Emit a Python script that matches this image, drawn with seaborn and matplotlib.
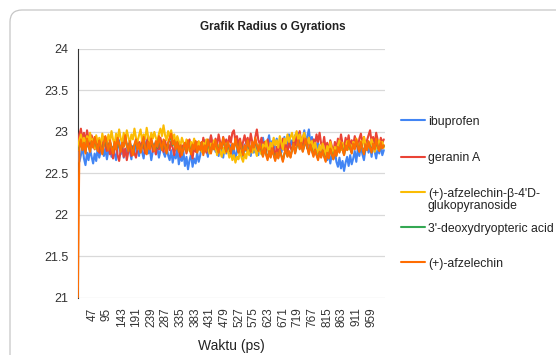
import numpy as np
import pandas as pd
import matplotlib
matplotlib.use("Agg")
import matplotlib.pyplot as plt
from matplotlib.patches import FancyBboxPatch
from matplotlib.lines import Line2D
import seaborn as sns

# time axis (ps), sampled every 5 ps
waktu = list(range(0, 1001, 5))

ibuprofen = [
    22.76, 22.64, 22.72, 22.83, 22.68, 22.60, 22.75, 22.66, 22.79, 22.70,
    22.62, 22.74, 22.65, 22.81, 22.69, 22.77, 22.86, 22.71, 22.80, 22.67,
    22.78, 22.88, 22.70, 22.82, 22.74, 22.66, 22.80, 22.90, 22.73, 22.84,
    22.69, 22.79, 22.72, 22.86, 22.77, 22.67, 22.83, 22.74, 22.92, 22.78,
    22.71, 22.85, 22.76, 22.68, 22.82, 22.90, 22.74, 22.80, 22.66, 22.77,
    22.86, 22.73, 22.81, 22.69, 22.78, 22.88, 22.75, 22.70, 22.83, 22.72,
    22.66, 22.78, 22.63, 22.74, 22.68, 22.80, 22.61, 22.71, 22.65, 22.76,
    22.59, 22.70, 22.55, 22.66, 22.73, 22.58, 22.68, 22.62, 22.75, 22.64,
    22.72, 22.84, 22.75, 22.90, 22.79, 22.70, 22.86, 22.95, 22.80, 22.88,
    22.76, 22.83, 22.71, 22.87, 22.78, 22.69, 22.82, 22.74, 22.86, 22.77,
    22.84, 22.72, 22.80, 22.68, 22.76, 22.89, 22.73, 22.81, 22.70, 22.85,
    22.77, 22.91, 22.79, 22.71, 22.84, 22.75, 22.88, 22.80, 22.72, 22.86,
    22.79, 22.93, 22.82, 22.74, 22.87, 22.96, 22.81, 22.89, 22.76, 22.85,
    22.92, 22.80, 22.88, 22.75, 22.84, 22.94, 22.79, 22.86, 22.97, 22.83,
    22.90, 22.81, 22.96, 22.86, 22.99, 22.84, 22.93, 22.88, 23.02, 22.87,
    22.95, 23.03, 22.86, 22.94, 22.82, 22.91, 22.78, 22.87, 22.80, 22.74,
    22.83, 22.71, 22.79, 22.66, 22.75, 22.62, 22.73, 22.67, 22.78, 22.64,
    22.58, 22.69, 22.56, 22.65, 22.53, 22.63, 22.70, 22.59, 22.72, 22.61,
    22.68, 22.77, 22.64, 22.80, 22.71, 22.84, 22.73, 22.66, 22.79, 22.87,
    22.75, 22.83, 22.70, 22.86, 22.77, 22.68, 22.81, 22.74, 22.84, 22.72,
    22.78]

geranin_a = [
    22.82, 22.97, 23.04, 22.90, 22.99, 22.86, 23.02, 22.92, 22.84, 22.96,
    22.88, 22.79, 22.93, 22.85, 22.75, 22.89, 22.81, 22.94, 22.83, 22.77,
    22.86, 22.73, 22.81, 22.68, 22.79, 22.87, 22.72, 22.65, 22.78, 22.84,
    22.70, 22.80, 22.66, 22.76, 22.85, 22.71, 22.82, 22.74, 22.69, 22.80,
    22.88, 22.77, 22.92, 22.82, 22.74, 22.86, 22.95, 22.81, 22.89, 22.76,
    22.84, 22.73, 22.87, 22.79, 22.93, 22.83, 22.76, 22.90, 22.80, 22.86,
    22.78, 22.89, 22.81, 22.72, 22.85, 22.93, 22.79, 22.70, 22.84, 22.77,
    22.86, 22.74, 22.82, 22.91, 22.78, 22.68, 22.83, 22.76, 22.88, 22.80,
    22.87, 22.78, 22.93, 22.84, 22.75, 22.89, 22.81, 22.96, 22.86, 22.79,
    22.92, 22.83, 22.97, 22.88, 22.80, 22.94, 22.85, 22.91, 22.82, 22.95,
    22.87, 22.99, 23.02, 22.89, 22.95, 22.84, 22.92, 22.80, 22.88, 22.96,
    22.86, 22.93, 22.83, 22.98, 22.88, 22.79, 22.94, 23.03, 22.90, 22.85,
    22.93, 22.81, 22.88, 22.76, 22.91, 22.83, 22.74, 22.86, 22.79, 22.70,
    22.82, 22.75, 22.88, 22.80, 22.92, 22.78, 22.85, 22.73, 22.89, 22.81,
    22.77, 22.90, 22.84, 22.96, 22.86, 23.01, 22.89, 22.82, 22.95, 22.87,
    22.80, 22.93, 22.85, 22.78, 22.91, 22.84, 22.97, 22.88, 22.99, 22.86,
    22.82, 22.94, 22.79, 22.87, 22.76, 22.90, 22.83, 22.74, 22.88, 22.80,
    22.92, 22.84, 22.97, 22.86, 22.79, 22.93, 22.85, 22.96, 22.82, 22.90,
    22.84, 22.95, 22.87, 22.79, 22.92, 22.98, 22.86, 22.94, 22.83, 22.90,
    22.96, 23.02, 22.88, 22.94, 22.85, 22.99, 22.90, 22.81, 22.93, 22.87,
    22.91]

afzelechin_glukosida = [
    22.78, 22.90, 22.97, 22.85, 22.93, 22.81, 22.95, 22.88, 22.99, 22.84,
    22.92, 22.80, 22.96, 22.87, 22.93, 22.83, 22.98, 22.89, 22.94, 22.86,
    22.97, 22.88, 23.01, 22.91, 22.85, 22.98, 22.90, 23.03, 22.92, 22.87,
    22.99, 22.90, 23.02, 22.94, 22.86, 22.97, 22.91, 23.04, 22.93, 22.88,
    22.96, 23.03, 22.89, 22.97, 22.91, 23.05, 22.94, 22.87, 22.99, 22.92,
    23.00, 22.93, 22.88, 22.98, 23.04, 22.95, 23.08, 22.96, 22.90, 23.01,
    22.94, 23.02, 22.91, 22.97, 22.86, 22.95, 22.89, 22.83, 22.93, 22.87,
    22.80, 22.91, 22.84, 22.77, 22.88, 22.82, 22.92, 22.85, 22.79, 22.89,
    22.83, 22.76, 22.87, 22.81, 22.91, 22.84, 22.74, 22.86, 22.80, 22.90,
    22.82, 22.72, 22.84, 22.77, 22.70, 22.81, 22.74, 22.86, 22.78, 22.69,
    22.75, 22.66, 22.72, 22.63, 22.70, 22.67, 22.78, 22.69, 22.64, 22.74,
    22.68, 22.79, 22.72, 22.83, 22.75, 22.86, 22.78, 22.71, 22.84, 22.77,
    22.73, 22.85, 22.78, 22.89, 22.81, 22.75, 22.87, 22.82, 22.93, 22.84,
    22.90, 22.81, 22.95, 22.87, 22.79, 22.92, 22.86, 22.97, 22.88, 22.94,
    22.99, 22.89, 22.95, 23.01, 22.91, 22.97, 22.87, 22.94, 22.99, 22.90,
    22.85, 22.93, 22.82, 22.89, 22.78, 22.87, 22.80, 22.74, 22.84, 22.77,
    22.86, 22.79, 22.72, 22.83, 22.76, 22.88, 22.80, 22.70, 22.82, 22.75,
    22.84, 22.90, 22.78, 22.87, 22.73, 22.82, 22.89, 22.79, 22.85, 22.76,
    22.88, 22.81, 22.92, 22.84, 22.77, 22.89, 22.83, 22.94, 22.86, 22.79,
    22.87, 22.80, 22.91, 22.84, 22.76, 22.86, 22.79, 22.90, 22.82, 22.88,
    22.81]

deoxydryopteric = [
    22.79, 22.81, 22.89, 22.79, 22.86, 22.76, 22.90, 22.82, 22.77, 22.88,
    22.82, 22.92, 22.84, 22.78, 22.89, 22.81, 22.75, 22.85, 22.93, 22.83,
    22.79, 22.88, 22.82, 22.75, 22.86, 22.80, 22.91, 22.84, 22.77, 22.86,
    22.83, 22.94, 22.83, 22.78, 22.87, 22.81, 22.74, 22.84, 22.89, 22.80,
    22.85, 22.76, 22.82, 22.92, 22.80, 22.75, 22.87, 22.80, 22.90, 22.83,
    22.78, 22.88, 22.81, 22.93, 22.85, 22.79, 22.89, 22.82, 22.76, 22.86,
    22.91, 22.96, 22.84, 22.89, 22.80, 22.87, 22.77, 22.83, 22.74, 22.80,
    22.86, 22.77, 22.88, 22.81, 22.75, 22.84, 22.80, 22.87, 22.76, 22.82,
    22.79, 22.87, 22.74, 22.83, 22.78, 22.89, 22.81, 22.75, 22.85, 22.80,
    22.88, 22.82, 22.76, 22.86, 22.81, 22.91, 22.83, 22.77, 22.87, 22.81,
    22.75, 22.85, 22.80, 22.90, 22.82, 22.76, 22.88, 22.81, 22.74, 22.83,
    22.79, 22.89, 22.81, 22.77, 22.87, 22.82, 22.91, 22.83, 22.78, 22.85,
    22.78, 22.71, 22.80, 22.74, 22.68, 22.76, 22.70, 22.79, 22.73, 22.67,
    22.74, 22.69, 22.77, 22.72, 22.66, 22.73, 22.79, 22.71, 22.76, 22.70,
    22.79, 22.85, 22.75, 22.82, 22.88, 22.80, 22.86, 22.77, 22.83, 22.90,
    22.82, 22.74, 22.84, 22.78, 22.72, 22.78, 22.73, 22.68, 22.75, 22.70,
    22.77, 22.71, 22.66, 22.74, 22.69, 22.79, 22.74, 22.68, 22.77, 22.72,
    22.81, 22.76, 22.86, 22.80, 22.73, 22.83, 22.79, 22.88, 22.80, 22.75,
    22.85, 22.80, 22.89, 22.82, 22.77, 22.87, 22.81, 22.74, 22.84, 22.79,
    22.88, 22.82, 22.76, 22.85, 22.80, 22.90, 22.82, 22.78, 22.86, 22.81,
    22.83]

afzelechin = [
    21.00, 22.80, 22.91, 22.78, 22.87, 22.74, 22.92, 22.83, 22.76, 22.89,
    22.81, 22.94, 22.85, 22.77, 22.90, 22.82, 22.73, 22.86, 22.95, 22.84,
    22.78, 22.90, 22.81, 22.74, 22.88, 22.79, 22.93, 22.85, 22.76, 22.87,
    22.82, 22.96, 22.84, 22.77, 22.89, 22.80, 22.72, 22.85, 22.91, 22.79,
    22.86, 22.75, 22.83, 22.94, 22.81, 22.73, 22.88, 22.79, 22.92, 22.84,
    22.77, 22.89, 22.82, 22.95, 22.86, 22.78, 22.91, 22.83, 22.74, 22.87,
    22.93, 22.98, 22.85, 22.90, 22.79, 22.88, 22.76, 22.84, 22.72, 22.81,
    22.87, 22.76, 22.90, 22.80, 22.73, 22.85, 22.79, 22.89, 22.75, 22.83,
    22.78, 22.88, 22.72, 22.84, 22.77, 22.91, 22.82, 22.74, 22.86, 22.79,
    22.90, 22.81, 22.75, 22.87, 22.80, 22.93, 22.84, 22.76, 22.88, 22.82,
    22.74, 22.86, 22.79, 22.92, 22.83, 22.75, 22.89, 22.80, 22.72, 22.84,
    22.78, 22.90, 22.82, 22.76, 22.88, 22.81, 22.93, 22.84, 22.77, 22.86,
    22.79, 22.70, 22.81, 22.73, 22.66, 22.77, 22.69, 22.80, 22.72, 22.65,
    22.75, 22.68, 22.78, 22.71, 22.64, 22.74, 22.80, 22.70, 22.77, 22.69,
    22.78, 22.86, 22.74, 22.83, 22.90, 22.79, 22.87, 22.76, 22.84, 22.92,
    22.81, 22.73, 22.85, 22.77, 22.70, 22.79, 22.72, 22.66, 22.76, 22.69,
    22.78, 22.70, 22.64, 22.75, 22.68, 22.80, 22.73, 22.67, 22.78, 22.71,
    22.82, 22.75, 22.87, 22.79, 22.72, 22.84, 22.78, 22.90, 22.81, 22.74,
    22.86, 22.79, 22.91, 22.83, 22.76, 22.88, 22.80, 22.73, 22.85, 22.78,
    22.89, 22.81, 22.75, 22.86, 22.79, 22.92, 22.83, 22.77, 22.87, 22.80,
    22.84]

nama = ["ibuprofen", "geranin A", "(+)-afzelechin-β-4'D-\nglukopyranoside",
        "3'-deoxydryopteric acid", "(+)-afzelechin"]
warna = ["#4285F4", "#EA4335", "#FBBC04", "#34A853", "#FF6D01"]
xticks = list(range(47, 1000, 48))
yticks = [21, 21.5, 22, 22.5, 23, 23.5, 24]

semua = [ibuprofen, geranin_a, afzelechin_glukosida, deoxydryopteric, afzelechin]
df = pd.concat([pd.DataFrame({"Waktu": waktu, "Rg": s, "Senyawa": n})
                for n, s in zip(nama, semua)], ignore_index=True)

sns.set_style("white")
plt.rcParams['font.family'] = ['Liberation Sans', 'DejaVu Sans']

fig = plt.figure(figsize=(5.56, 3.55), dpi=100)
ax = fig.add_axes([0.140, 0.161, 0.552, 0.701])

sns.lineplot(data=df, x="Waktu", y="Rg", hue="Senyawa", palette=dict(zip(nama, warna)),
             estimator=None, sort=False, linewidth=1.5, legend=False, zorder=3, ax=ax)

ax.set_xlim(0, 1003)
ax.set_ylim(21, 24)
ax.set_yticks(yticks)
ax.set_yticklabels([f"{t:g}" for t in yticks])
ax.set_xticks(xticks)
ax.set_xticklabels([str(t) for t in xticks], rotation=90)
ax.tick_params(axis='x', labelsize=8.5, length=0, pad=7, colors='#333333')
ax.tick_params(axis='y', labelsize=9, length=0, pad=7, colors='#333333')
ax.grid(axis='y', color='#d9d9d9', linewidth=0.9)
ax.set_axisbelow(True)
for s in ['top', 'right', 'bottom']:
    ax.spines[s].set_visible(False)
ax.spines['left'].set_color('#333333')
ax.spines['left'].set_linewidth(0.8)

ax.set_xlabel("Waktu (ps)", fontsize=10, color='#222222')
ax.xaxis.set_label_coords(0.5, -0.165)
ax.set_ylabel("")
fig.text(0.49, 0.925, "Grafik Radius o Gyrations", ha='center', va='center',
         fontsize=8.5, fontweight='bold', color='#222222')

# legend on the right, entries spaced like the original
W, H = 556, 355
leg_y = [120, 157, 192, 227, 262]
for n, c, y in zip(nama, warna, leg_y):
    fig.add_artist(Line2D([401 / W, 425 / W], [1 - y / H, 1 - y / H], color=c, linewidth=1.5))
    fig.text(428 / W, 1 - (y - 4.5) / H, n, ha='left', va='top', fontsize=8.8,
             color='#222222', linespacing=1.05)

# card border
card = FancyBboxPatch((0.10, -0.30), 6.0, 3.75, boxstyle="round,pad=0,rounding_size=0.12",
                      transform=fig.dpi_scale_trans, facecolor='none', edgecolor='#c6c6c6',
                      linewidth=0.9, clip_on=False)
fig.patches.append(card)

fig.savefig("out.png", dpi=100)
